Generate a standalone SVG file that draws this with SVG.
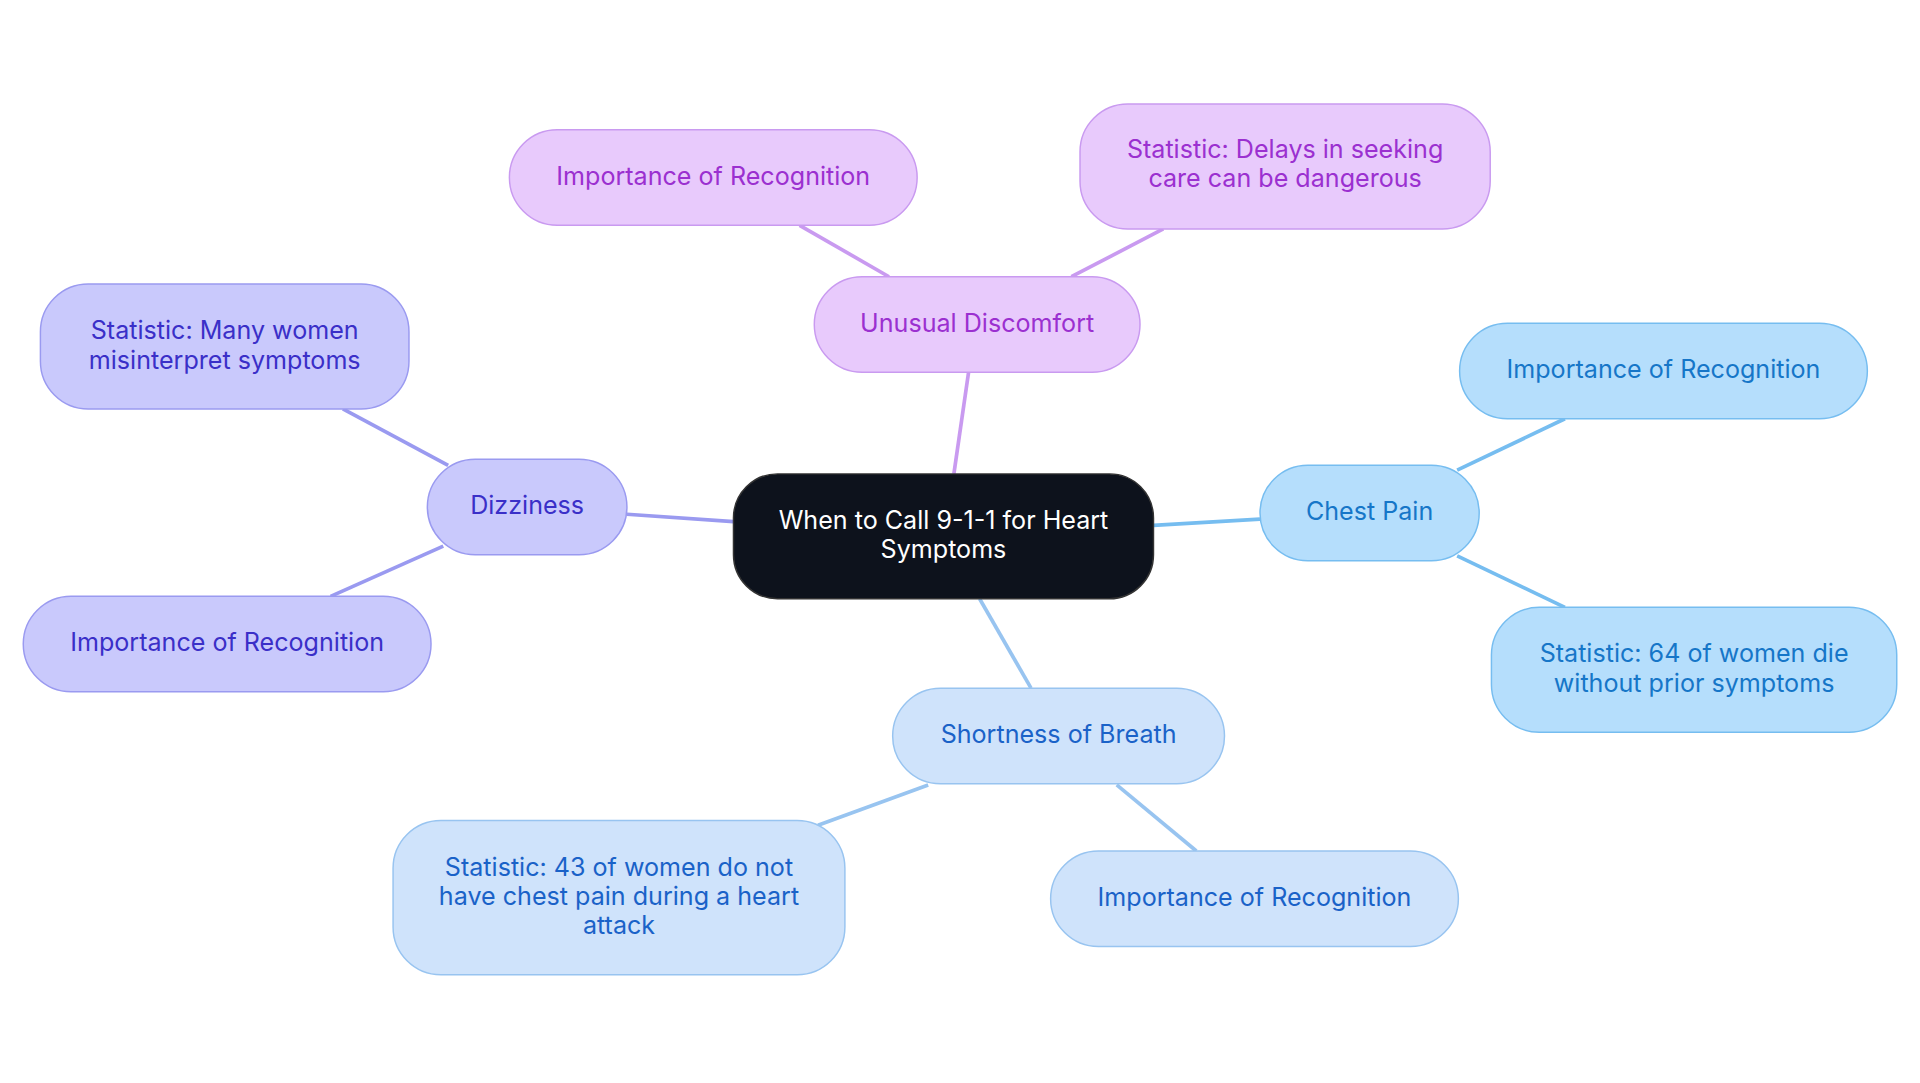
<svg xmlns="http://www.w3.org/2000/svg" width="1920" height="1083" viewBox="0 0 1920 1083">
<style>
text{font-family:Inter,"Open Sans",sans-serif;font-size:20.5px;text-anchor:middle}
.p rect{fill:#e8cafc;stroke:#c99af0;stroke-width:1.2}.p text{fill:#9b30d0}
.v rect{fill:#c9c9fc;stroke:#9a9af0;stroke-width:1.2}.v text{fill:#3a2fc8}
.c rect{fill:#b5defc;stroke:#76bdf0;stroke-width:1.2}.c text{fill:#1676c8}
.s rect{fill:#cfe3fb;stroke:#98c4f0;stroke-width:1.2}.s text{fill:#1a62c8}
#edges line{stroke-width:3}
</style>
<rect width="1920" height="1083" fill="#fff"/>
<g transform="scale(1.2245)">
<g id="edges">
<line x1="779" y1="387" x2="791" y2="304" stroke="#c99af0"/>
<line x1="726" y1="226" x2="653" y2="184" stroke="#c99af0"/>
<line x1="875" y1="226" x2="950" y2="187" stroke="#c99af0"/>
<line x1="599" y1="426" x2="512" y2="420" stroke="#9a9af0"/>
<line x1="366" y1="380" x2="280" y2="334" stroke="#9a9af0"/>
<line x1="362" y1="446" x2="270" y2="487" stroke="#9a9af0"/>
<line x1="942" y1="429" x2="1029" y2="424" stroke="#76bdf0"/>
<line x1="1190" y1="384" x2="1278" y2="342" stroke="#76bdf0"/>
<line x1="1190" y1="454" x2="1278" y2="496" stroke="#76bdf0"/>
<line x1="800" y1="489" x2="842" y2="562" stroke="#98c4f0"/>
<line x1="758" y1="641" x2="668" y2="674" stroke="#98c4f0"/>
<line x1="912" y1="641" x2="977" y2="695" stroke="#98c4f0"/>
</g>
<g id="center"><rect x="599" y="387" width="343" height="102" rx="36" fill="#0d121c" stroke="#333" stroke-width="1.2"/><text fill="#fff" x="770.5" y="432">When to Call 9-1-1 for Heart</text><text fill="#fff" x="770.5" y="456">Symptoms</text></g>
<g id="unusual" class="p"><rect x="665" y="226" width="266" height="78" rx="39"/><text x="798" y="271">Unusual Discomfort</text></g>
<g id="u-imp" class="p"><rect x="416" y="106" width="333" height="78" rx="39"/><text x="582.5" y="151">Importance of Recognition</text></g>
<g id="u-stat" class="p"><rect x="882" y="85" width="335" height="102" rx="39"/><text x="1049.5" y="129">Statistic: Delays in seeking</text><text x="1049.5" y="153">care can be dangerous</text></g>
<g id="dizzy" class="v"><rect x="349" y="375" width="163" height="78" rx="39"/><text x="430.5" y="420">Dizziness</text></g>
<g id="d-stat" class="v"><rect x="33" y="232" width="301" height="102" rx="39"/><text x="183.5" y="277">Statistic: Many women</text><text x="183.5" y="301">misinterpret symptoms</text></g>
<g id="d-imp" class="v"><rect x="19" y="487" width="333" height="78" rx="39"/><text x="185.5" y="532">Importance of Recognition</text></g>
<g id="chest" class="c"><rect x="1029" y="380" width="179" height="78" rx="39"/><text x="1118.5" y="425">Chest Pain</text></g>
<g id="c-imp" class="c"><rect x="1192" y="264" width="333" height="78" rx="39"/><text x="1358.5" y="309">Importance of Recognition</text></g>
<g id="c-stat" class="c"><rect x="1218" y="496" width="331" height="102" rx="39"/><text x="1383.5" y="541">Statistic: 64 of women die</text><text x="1383.5" y="565">without prior symptoms</text></g>
<g id="short" class="s"><rect x="729" y="562" width="271" height="78" rx="39"/><text x="864.5" y="607">Shortness of Breath</text></g>
<g id="s-stat" class="s"><rect x="321" y="670" width="369" height="126" rx="39"/><text x="505.5" y="715">Statistic: 43 of women do not</text><text x="505.5" y="739">have chest pain during a heart</text><text x="505.5" y="763">attack</text></g>
<g id="s-imp" class="s"><rect x="858" y="695" width="333" height="78" rx="39"/><text x="1024.5" y="740">Importance of Recognition</text></g>
</g>
</svg>
